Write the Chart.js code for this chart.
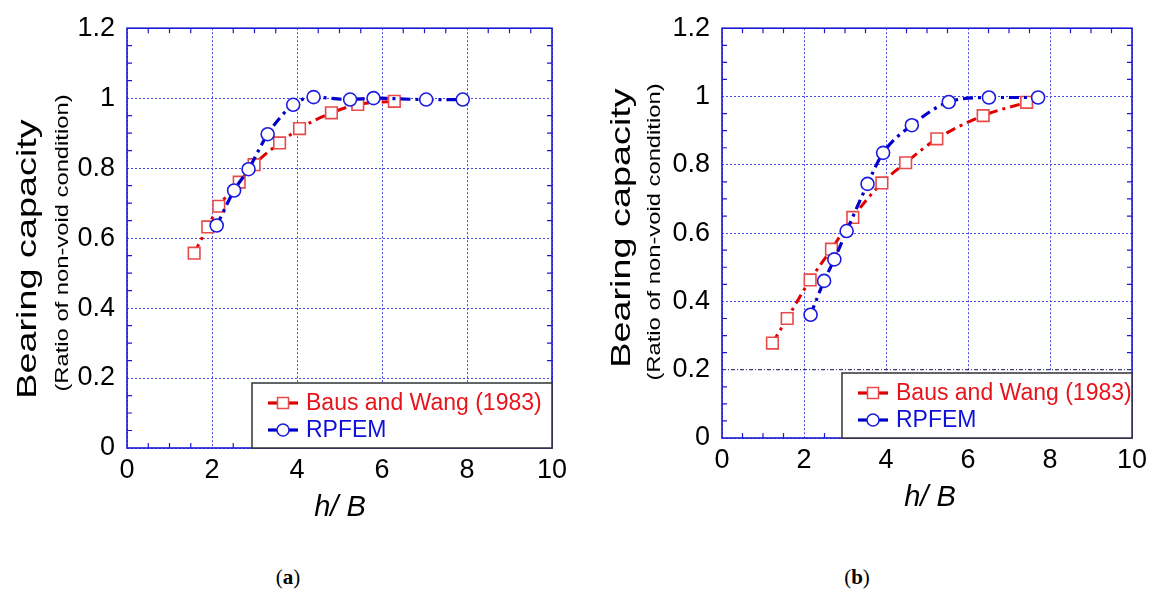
<!DOCTYPE html>
<html>
<head>
<meta charset="utf-8">
<script src="https://cdn.jsdelivr.net/npm/chart.js@4.4.0/dist/chart.umd.min.js"></script>
<style>
  html, body { margin: 0; padding: 0; background: #fff; }
  body { width: 1156px; height: 599px; position: relative; overflow: hidden; }
  .wrap { position: absolute; top: 0; width: 578px; height: 540px; }
  .cap { position: absolute; top: 565px; font-family: "Liberation Serif", serif; font-size: 21px; color: #000; transform: translateX(-50%); }
</style>
</head>
<body>
<div class="wrap" style="left:0"><canvas id="ca" width="578" height="540"></canvas></div>
<div class="wrap" style="left:578px"><canvas id="cb" width="578" height="540"></canvas></div>
<div class="cap" style="left:288px">(<b>a</b>)</div>
<div class="cap" style="left:857px">(<b>b</b>)</div>
<script>
// ---- data ----
const seriesNames = ['Baus and Wang (1983)', 'RPFEM'];
const xTickValues = [0, 2, 4, 6, 8, 10];
const yTickValues = [0, 0.2, 0.4, 0.6, 0.8, 1, 1.2];

// panel (a)
const hbA_baus  = [1.58, 1.90, 2.16, 2.64, 2.99, 3.59, 4.06, 4.81, 5.43, 6.29];
const bcA_baus  = [0.557, 0.632, 0.691, 0.760, 0.810, 0.872, 0.913, 0.958, 0.982, 0.991];
const hbA_rpfem = [2.11, 2.52, 2.86, 3.31, 3.91, 4.39, 5.25, 5.80, 7.04, 7.90];
const bcA_rpfem = [0.636, 0.736, 0.797, 0.897, 0.981, 1.003, 0.996, 1.000, 0.996, 0.996];

// panel (b)
const hbB_baus  = [1.23, 1.59, 2.15, 2.67, 3.19, 3.90, 4.48, 5.24, 6.37, 7.43];
const bcB_baus  = [0.278, 0.350, 0.463, 0.553, 0.646, 0.747, 0.806, 0.876, 0.944, 0.983];
const hbB_rpfem = [2.16, 2.49, 2.74, 3.04, 3.55, 3.93, 4.63, 5.53, 6.51, 7.71];
const bcB_rpfem = [0.361, 0.460, 0.523, 0.606, 0.744, 0.835, 0.916, 0.984, 0.997, 0.997];

// ---- styling ----
const RED = '#e00000', RED_MK = '#e84a4a', RED_TXT = '#e8141b';
const BLUE = '#0000cc', BLUE_MK = '#1a1ae0', BLUE_TXT = '#1010d8';
const AXIS = '#1a1ad4', GRID = '#4848e6';
const FONT = '"Liberation Sans", Arial, sans-serif';

function pts(xs, ys) { return xs.map((x, i) => ({ x: x, y: ys[i] })); }

function makeDatasets(hb1, bc1, hb2, bc2) {
  return [
    { label: seriesNames[0], data: pts(hb1, bc1), borderColor: RED, borderWidth: 3,
      borderDash: [10, 5, 3, 5], cubicInterpolationMode: 'monotone', showLine: true,
      pointStyle: 'rect', pointRadius: 8.2, pointBorderColor: RED_MK, pointBorderWidth: 1.6,
      pointBackgroundColor: '#fff', fill: false, order: 2 },
    { label: seriesNames[1], data: pts(hb2, bc2), borderColor: BLUE, borderWidth: 3.2,
      borderDash: [10, 5, 3, 5], cubicInterpolationMode: 'monotone', showLine: true,
      pointStyle: 'circle', pointRadius: 6.5, pointBorderColor: BLUE_MK, pointBorderWidth: 1.6,
      pointBackgroundColor: '#fff', fill: false, order: 1 }
  ];
}

// plugin: frame, inward minor ticks, axis titles, legend box
function decoPlugin(cfg) {
  return {
    id: 'deco',
    beforeDatasetsDraw(chart) {
      const ctx = chart.ctx, a = chart.chartArea;
      const xs = chart.scales.x, ys = chart.scales.y;
      ctx.save();
      // special dark gridline (panel b, y = 0.2)
      if (cfg.darkY != null) {
        const py = ys.getPixelForValue(cfg.darkY);
        ctx.strokeStyle = '#101060'; ctx.lineWidth = 1; ctx.setLineDash([4, 2, 1, 2]);
        ctx.beginPath(); ctx.moveTo(a.left, py); ctx.lineTo(a.right, py); ctx.stroke();
        ctx.setLineDash([]);
      }
      ctx.strokeStyle = AXIS; ctx.lineWidth = 1.6;
      ctx.strokeRect(a.left, a.top, a.right - a.left, a.bottom - a.top);
      ctx.lineWidth = 1.2;
      const tl = 5;
      ctx.beginPath();
      for (let v = 0.5; v < 10; v += 0.5) {
        const px = xs.getPixelForValue(v);
        const len = (Math.abs(v - Math.round(v / 2) * 2) < 1e-6) ? 0 : tl;
        if (!len) continue;
        ctx.moveTo(px, a.bottom); ctx.lineTo(px, a.bottom - tl);
        ctx.moveTo(px, a.top); ctx.lineTo(px, a.top + tl);
      }
      for (let k = 1; k < 24; k++) {
        const v = k * 0.05;
        if (k % 4 === 0) continue;
        const py = ys.getPixelForValue(v);
        ctx.moveTo(a.left, py); ctx.lineTo(a.left + tl, py);
        ctx.moveTo(a.right, py); ctx.lineTo(a.right - tl, py);
      }
      ctx.stroke();
      ctx.restore();
    },
    afterDraw(chart) {
      const ctx = chart.ctx, a = chart.chartArea;
      ctx.save();
      ctx.fillStyle = '#000';
      ctx.textAlign = 'center'; ctx.textBaseline = 'middle';
      // y titles (stretched along reading direction)
      ctx.save();
      ctx.translate(cfg.yt1.x, cfg.yt1.y); ctx.rotate(-Math.PI / 2); ctx.scale(1.35, 1);
      ctx.font = '28px ' + FONT; ctx.fillText('Bearing capacity', 0, 0);
      ctx.restore();
      ctx.save();
      ctx.translate(cfg.yt2.x, cfg.yt2.y); ctx.rotate(-Math.PI / 2); ctx.scale(1.32, 1);
      ctx.font = '18px ' + FONT; ctx.fillText('(Ratio of non-void condition)', 0, 0);
      ctx.restore();
      // x title
      ctx.font = 'italic 29px ' + FONT;
      ctx.fillText('h/ B', cfg.xt.x, cfg.xt.y);
      // legend
      const L = cfg.legend;
      ctx.fillStyle = '#fff';
      ctx.fillRect(L.x, L.y, a.right - L.x, a.bottom - L.y);
      ctx.strokeStyle = '#333'; ctx.lineWidth = 1.5;
      ctx.strokeRect(L.x, L.y, a.right - L.x, a.bottom - L.y);
      const items = chart.data.datasets;
      items.forEach((ds, i) => {
        const cy = L.y + L.rows[i];
        const x0 = L.x + 16, x1 = x0 + 30, xm = (x0 + x1) / 2;
        ctx.strokeStyle = ds.borderColor; ctx.lineWidth = 3.2; ctx.setLineDash([]);
        ctx.beginPath(); ctx.moveTo(x0, cy); ctx.lineTo(x1, cy); ctx.stroke();
        ctx.fillStyle = '#fff'; ctx.strokeStyle = ds.pointBorderColor; ctx.lineWidth = 1.5;
        ctx.beginPath();
        if (ds.pointStyle === 'rect') { ctx.rect(xm - 5.5, cy - 5.5, 11, 11); }
        else { ctx.arc(xm, cy, 6, 0, Math.PI * 2); }
        ctx.fill(); ctx.stroke();
        ctx.fillStyle = i === 0 ? RED_TXT : BLUE_TXT;
        ctx.textAlign = 'left'; ctx.textBaseline = 'middle';
        ctx.font = '23px ' + FONT;
        ctx.fillText(ds.label, x1 + 8, cy + 1);
      });
      ctx.restore();
    }
  };
}

function makeChart(id, datasets, geo, cfg) {
  return new Chart(document.getElementById(id), {
    type: 'scatter',
    data: { datasets: datasets },
    options: {
      responsive: false, animation: false, devicePixelRatio: 1,
      layout: { padding: { left: 0, top: geo.top, right: geo.right, bottom: 0 } },
      plugins: { legend: { display: false }, tooltip: { enabled: false } },
      scales: {
        x: {
          type: 'linear', min: 0, max: 10,
          afterBuildTicks: (s) => { s.ticks = xTickValues.map(v => ({ value: v })); },
          afterFit: (s) => { s.height = geo.xh; },
          ticks: { font: { family: FONT, size: 27 }, color: '#000', padding: 6, maxRotation: 0 },
          grid: { color: GRID, lineWidth: 1, drawTicks: false },
          border: { display: false, dash: [2, 2] }
        },
        y: {
          type: 'linear', min: 0, max: 1.2,
          afterBuildTicks: (s) => { s.ticks = yTickValues.map(v => ({ value: v })); },
          afterFit: (s) => { s.width = geo.yw; },
          ticks: { font: { family: FONT, size: 27 }, color: '#000', padding: 12,
                   callback: (v) => String(Math.round(v * 10) / 10) },
          grid: { color: (c) => (cfg.darkY != null && Math.abs(c.tick.value - cfg.darkY) < 1e-6) ? 'rgba(0,0,0,0)' : GRID,
                  lineWidth: 1, drawTicks: false },
          border: { display: false, dash: [2, 2] }
        }
      }
    },
    plugins: [decoPlugin(cfg)]
  });
}

makeChart('ca', makeDatasets(hbA_baus, bcA_baus, hbA_rpfem, bcA_rpfem),
  { top: 25, right: 26, xh: 92, yw: 127 },
  { yt1: { x: 28, y: 259 }, yt2: { x: 63, y: 243 }, xt: { x: 340, y: 508 },
    legend: { x: 252, y: 383, rows: [20, 47] }, darkY: null });

makeChart('cb', makeDatasets(hbB_baus, bcB_baus, hbB_rpfem, bcB_rpfem),
  { top: 25, right: 24, xh: 102, yw: 144 },
  { yt1: { x: 44, y: 228 }, yt2: { x: 77, y: 232 }, xt: { x: 352, y: 498 },
    legend: { x: 264, y: 373, rows: [20, 47] }, darkY: 0.2 });
</script>
</body>
</html>
